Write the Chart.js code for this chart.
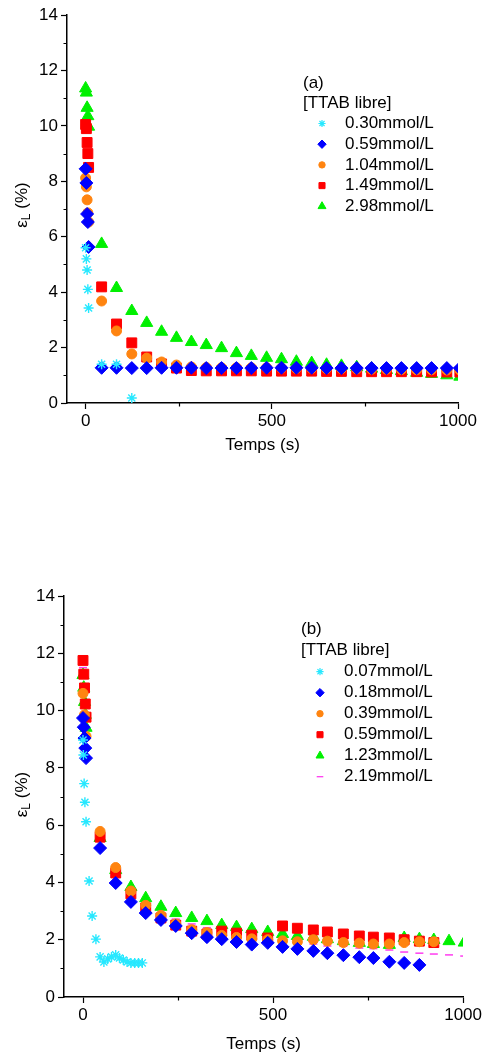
<!DOCTYPE html>
<html><head><meta charset="utf-8">
<script src="https://cdn.jsdelivr.net/npm/chart.js@4/dist/chart.umd.min.js"></script>
<style>
html,body{margin:0;padding:0;background:#fff;width:484px;height:1059px;overflow:hidden;}
#wa{position:absolute;left:0;top:0;width:484px;height:470px;}
#wb{position:absolute;left:0;top:560px;width:484px;height:499px;}
</style></head><body>
<div id="wa"><canvas id="ca"></canvas></div>
<div id="wb"><canvas id="cb"></canvas></div>
<script>
// ---------- tick labels ----------
const yTickValues = [0, 2, 4, 6, 8, 10, 12, 14];
const yMinorValues = [1, 3, 5, 7, 9, 11, 13];
const xTickValues = [0, 500, 1000];
const xMinorValues = [250, 750];
const xTitle = 'Temps (s)';
const legendHeader = '[TTAB libre]';

// ---------- chart (a) ----------
const labelsA = ['0.30mmol/L', '0.59mmol/L', '1.04mmol/L', '1.49mmol/L', '2.98mmol/L'];
const tA_start = [0, 2, 4, 6, 8];
const tA_tail = [43, 83, 124, 164, 204, 244, 284, 324, 365, 405, 445, 486, 526, 566, 607, 647, 687, 728, 768, 808, 848, 889, 929, 970, 1005];
const tA_cyan = [0, 2, 4, 6, 8, 43, 83, 124];
const vA_cyan = [5.6, 5.2, 4.8, 4.1, 3.43, 1.4, 1.4, 0.18];
const vA_blue = [8.45, 7.94, 6.82, 6.53, 5.63,
  1.27, 1.27, 1.26, 1.26, 1.27, 1.27, 1.27, 1.26, 1.26, 1.26, 1.26, 1.27, 1.27, 1.27, 1.27, 1.26, 1.26, 1.26, 1.26, 1.26, 1.26, 1.26, 1.26, 1.26, 1.26];
const vA_orange = [8.12, 7.8, 7.33, 6.86, 6.53,
  3.68, 2.6, 1.77, 1.62, 1.48, 1.37, 1.3, 1.28, 1.27, 1.27, 1.27, 1.27, 1.26, 1.25, 1.25, 1.24, 1.24, 1.23, 1.22, 1.22, 1.21, 1.2, 1.2, 1.19, 1.19];
const vA_red = [10.05, 9.9, 9.4, 9.0, 8.5,
  4.19, 2.85, 2.17, 1.66, 1.41, 1.26, 1.17, 1.16, 1.16, 1.16, 1.16, 1.15, 1.15, 1.15, 1.15, 1.14, 1.14, 1.13, 1.13, 1.13, 1.13, 1.13, 1.12, 1.12, 1.12];
const vA_green = [11.35, 11.2, 10.65, 10.35, 9.97,
  5.74, 4.15, 3.32, 2.89, 2.57, 2.35, 2.2, 2.09, 1.98, 1.8, 1.7, 1.63, 1.58, 1.49, 1.44, 1.38, 1.34, 1.29, 1.24, 1.19, 1.15, 1.09, 1.05, 1.0, 0.95];

// ---------- chart (b) ----------
const labelsB = ['0.07mmol/L', '0.18mmol/L', '0.39mmol/L', '0.59mmol/L', '1.23mmol/L', '2.19mmol/L'];
const tB_start = [0, 2, 4, 6, 8];
const tB_tail = [45, 86, 126, 165, 205, 244, 286, 326, 365, 404, 444, 486, 525, 564, 606, 643, 685, 727, 764, 806, 845, 885, 923, 963, 1003];
const tB_cyan = [0, 1, 3, 5, 8, 16, 24, 34, 45, 55, 65, 75, 86, 96, 106, 116, 126, 136, 146, 156];
const vB_cyan = [8.97, 8.45, 7.45, 6.8, 6.12, 4.05, 2.83, 2.02, 1.4, 1.22, 1.33, 1.4, 1.47, 1.36, 1.29, 1.22, 1.19, 1.19, 1.19, 1.19];
const vB_blue = [9.74, 9.42, 9.04, 8.69, 8.34,
  5.2, 3.98, 3.32, 2.93, 2.69, 2.48, 2.23, 2.09, 2.02, 1.92, 1.83, 1.89, 1.75, 1.68, 1.61, 1.53, 1.46, 1.39, 1.36, 1.23, 1.19, 1.12];
const tB_orange_start = [0, 4, 8];
const vB_orange = [10.6, 9.85, 9.1,
  5.78, 4.52, 3.7, 3.2, 2.85, 2.55, 2.35, 2.25, 2.15, 2.08, 2.03, 2.0, 1.96, 1.93, 2.0, 1.95, 1.9, 1.88, 1.85, 1.85, 1.9, 1.93, 1.93];
const vB_red = [11.75, 11.27, 10.79, 10.23, 9.77,
  5.58, 4.33, 3.6, 3.11, 2.76, 2.51, 2.3, 2.2, 2.3, 2.23, 2.16, 2.06, 2.48, 2.4, 2.34, 2.27, 2.2, 2.13, 2.09, 2.06, 2.0, 1.95, 1.9];
const vB_green = [11.24, 10.8, 10.3, 9.85, 9.4,
  5.55, 4.43, 3.84, 3.45, 3.15, 2.93, 2.76, 2.65, 2.51, 2.44, 2.37, 2.27, 2.2, 2.13, 2.1, 2.02, 1.95, 1.89, 1.85, 1.82, 2.06, 2.02, 1.99, 1.95, 1.9];
const tB_pink_start = [0];
const vB_pink = [11.5,
  5.68, 4.45, 3.72, 3.3, 2.95, 2.72, 2.55, 2.42, 2.33, 2.25, 2.18, 2.02, 1.88, 1.86, 1.85, 1.78, 1.77, 1.71, 1.69, 1.64, 1.57, 1.53, 1.5, 1.47, 1.43];

// ---------- helpers ----------
const FONT = '"Liberation Sans", Arial, Helvetica, sans-serif';
const FS = 17;
function pts(ts, vs) { return vs.map((v, i) => ({ x: ts[i], y: v })); }
function series(label, ts, vs, st) {
  return {
    label, data: pts(ts, vs), showLine: false, clip: 0,
    pointStyle: st.ps, pointRadius: st.r, pointHoverRadius: st.r,
    pointBorderWidth: st.bw, backgroundColor: st.c, borderColor: st.c
  };
}
const ST = {
  cyan:   { c: '#27e8ff', ps: 'star', r: 5, bw: 1.4 },
  blue:   { c: '#0000ff', ps: 'rectRot', r: 6.5, bw: 1 },
  orange: { c: '#ff8410', ps: 'circle', r: 5, bw: 1 },
  red:    { c: '#ff0000', ps: 'rect', r: 7, bw: 1 },
  green:  { c: '#00f000', ps: 'triangle', r: 7, bw: 1 },
  pink:   { c: '#ff3cf0', ps: 'line', r: 4, bw: 1.5 }
};
const LEG = {
  cyan: { ps: 'star', r: 3.6, bw: 1.2 }, blue: { ps: 'rectRot', r: 4.2, bw: 1 },
  orange: { ps: 'circle', r: 3.2, bw: 1 }, red: { ps: 'rect', r: 4.3, bw: 1 },
  green: { ps: 'triangle', r: 4.6, bw: 1 }, pink: { ps: 'line', r: 3.3, bw: 1.3 }
};

function drawMarker(ctx, key, x, y) {
  const c = ST[key].c, l = LEG[key];
  ctx.fillStyle = c; ctx.strokeStyle = c; ctx.lineWidth = l.bw;
  Chart.helpers.drawPoint(ctx, { pointStyle: l.ps, radius: l.r, rotation: 0, borderWidth: l.bw }, x, y);
}

const decorPlugin = {
  id: 'decor',
  afterDraw(chart, args, o) {
    const ctx = chart.ctx, a = chart.chartArea, xs = chart.scales.x, ys = chart.scales.y;
    ctx.save();
    // minor ticks
    ctx.strokeStyle = '#000'; ctx.lineWidth = 1.2; ctx.beginPath();
    yMinorValues.forEach(v => { const p = Math.round(ys.getPixelForValue(v)) + 0.5; ctx.moveTo(a.left - 3.5, p); ctx.lineTo(a.left, p); });
    xMinorValues.forEach(v => { const p = Math.round(xs.getPixelForValue(v)) + 0.5; ctx.moveTo(p, a.bottom); ctx.lineTo(p, a.bottom + 3.5); });
    ctx.stroke();
    // y title with subscript
    ctx.fillStyle = '#000'; ctx.textBaseline = 'middle'; ctx.textAlign = 'left';
    const big = FS + 'px ' + FONT, small = '12px ' + FONT;
    ctx.translate(o.titleX, (a.top + a.bottom) / 2 + o.titleDy);
    ctx.rotate(-Math.PI / 2);
    ctx.font = big; const w1 = ctx.measureText('ε').width, w3 = ctx.measureText(' (%)').width;
    ctx.font = small; const w2 = ctx.measureText('L').width;
    let x = -(w1 + w2 + w3) / 2;
    ctx.font = big; ctx.fillText('ε', x, 0); x += w1;
    ctx.font = small; ctx.fillText('L', x, 5); x += w2;
    ctx.font = big; ctx.fillText(' (%)', x, 0);
    ctx.restore();
    // legend
    ctx.save();
    ctx.fillStyle = '#000'; ctx.font = FS + 'px ' + FONT; ctx.textBaseline = 'middle'; ctx.textAlign = 'left';
    ctx.fillText(o.tag, o.hx, o.tagY);
    ctx.fillText(legendHeader, o.hx, o.headY);
    o.keys.forEach((k, i) => {
      const y = o.y0 + i * o.dy;
      drawMarker(ctx, k, o.mx, y);
      ctx.fillStyle = '#000';
      ctx.fillText(o.labels[i], o.tx, y);
    });
    ctx.restore();
  }
};

function makeOptions(p) {
  return {
    responsive: true, maintainAspectRatio: false, animation: false,
    layout: { padding: { left: 0, top: p.top, right: p.right, bottom: p.bottom } },
    plugins: { legend: { display: false }, tooltip: { enabled: false }, decor: p.decor },
    scales: {
      x: {
        type: 'linear', min: -50, max: 1000,
        afterBuildTicks: s => { s.ticks = xTickValues.map(v => ({ value: v })); },
        afterFit: s => { s.height = p.xh; },
        grid: { drawOnChartArea: false, drawTicks: true, tickLength: 6, tickColor: '#000', tickWidth: 1.2 },
        border: { display: true, color: '#000', width: 1.5 },
        ticks: { color: '#000', font: { family: FONT, size: FS }, padding: 2, maxRotation: 0, callback: v => String(v) },
        title: { display: true, text: xTitle, color: '#000', font: { family: FONT, size: FS }, padding: { top: 0, bottom: 0 } }
      },
      y: {
        type: 'linear', min: 0, max: 14,
        afterBuildTicks: s => { s.ticks = yTickValues.map(v => ({ value: v })); },
        afterFit: s => { s.width = p.yw; },
        grid: { drawOnChartArea: false, drawTicks: true, tickLength: 6, tickColor: '#000', tickWidth: 1.2 },
        border: { display: true, color: '#000', width: 1.5 },
        ticks: { color: '#000', font: { family: FONT, size: FS }, padding: 3, callback: v => String(v) }
      }
    }
  };
}

new Chart(document.getElementById('ca'), {
  type: 'scatter',
  data: { datasets: [
    series(labelsA[0], tA_cyan, vA_cyan, ST.cyan),
    series(labelsA[1], tA_start.concat(tA_tail), vA_blue, ST.blue),
    series(labelsA[2], tA_start.concat(tA_tail), vA_orange, ST.orange),
    series(labelsA[3], tA_start.concat(tA_tail), vA_red, ST.red),
    series(labelsA[4], tA_start.concat(tA_tail), vA_green, ST.green)
  ] },
  options: makeOptions({ top: 15, right: 26, bottom: 14, xh: 53, yw: 67,
    decor: { titleX: 22, titleDy: -4, tag: '(a)', hx: 303, tagY: 83, headY: 103,
      keys: ['cyan', 'blue', 'orange', 'red', 'green'], labels: labelsA,
      mx: 322, tx: 345, y0: 123.5, dy: 20.7 } }),
  plugins: [decorPlugin]
});

new Chart(document.getElementById('cb'), {
  type: 'scatter',
  data: { datasets: [
    series(labelsB[0], tB_cyan, vB_cyan, ST.cyan),
    series(labelsB[1], tB_start.concat(tB_tail), vB_blue, ST.blue),
    series(labelsB[2], tB_orange_start.concat(tB_tail), vB_orange, ST.orange),
    series(labelsB[3], tB_start.concat(tB_tail), vB_red, ST.red),
    series(labelsB[4], tB_start.concat(tB_tail), vB_green, ST.green),
    series(labelsB[5], tB_pink_start.concat(tB_tail), vB_pink, ST.pink)
  ] },
  options: makeOptions({ top: 36, right: 19, bottom: 4, xh: 58, yw: 64,
    decor: { titleX: 22, titleDy: -2, tag: '(b)', hx: 301, tagY: 69, headY: 90,
      keys: ['cyan', 'blue', 'orange', 'red', 'green', 'pink'], labels: labelsB,
      mx: 320, tx: 344, y0: 111.7, dy: 21 } }),
  plugins: [decorPlugin]
});
</script>
</body></html>
